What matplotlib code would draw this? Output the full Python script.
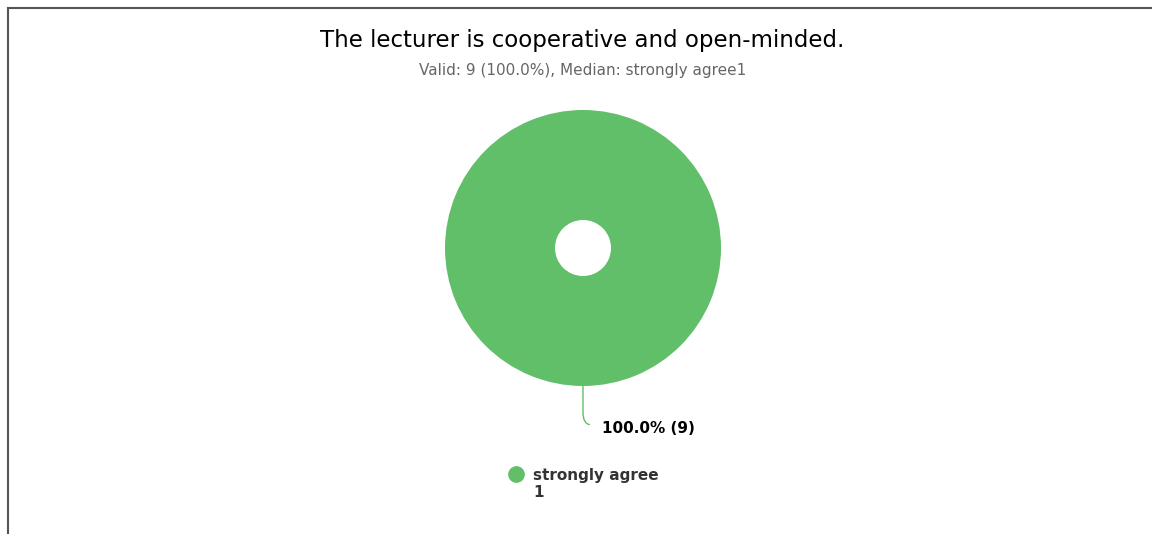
import matplotlib.pyplot as plt
from matplotlib.lines import Line2D
from matplotlib.path import Path
from matplotlib.patches import PathPatch

plt.rcParams["font.family"] = ["DejaVu Sans"]

title = "The lecturer is cooperative and open-minded."
subtitle = "Valid: 9 (100.0%), Median: strongly agree1"
categories = ["strongly agree"]
codes = ["1"]
counts = [9]
colors = ["#62bf69"]

W, H = 1152, 534
fig = plt.figure(figsize=(W / 100, H / 100), dpi=100)

# full-figure axes, 138 px per data unit, pie centre at pixel (583, 248)
cx, cy, r = 583, 248, 138
ax = fig.add_axes([0, 0, 1, 1])
wedges, _ = ax.pie(counts, colors=colors, startangle=90, counterclock=False,
                   radius=1, wedgeprops=dict(width=0.797, linewidth=0))
ax.set_xlim(-cx / r, (W - cx) / r)
ax.set_ylim(-(H - cy) / r, cy / r)
ax.set_aspect("auto")
ax.axis("off")

# data label with connector
total = sum(counts)
for w, n in zip(wedges, counts):
    verts = [(0, -1), (0, -1.19), (0, -1.275), (0.05, -1.28)]
    codes_p = [Path.MOVETO, Path.LINETO, Path.CURVE3, Path.CURVE3]
    ax.add_patch(PathPatch(Path(verts, codes_p), fill=False, edgecolor=w.get_facecolor(), lw=1))
    ax.text(0.138, -1.305, f"{n / total * 100:.1f}% ({n})", fontsize=11,
            fontweight="bold", color="black", ha="left", va="center")

fig.text(582 / W, 1 - 40 / H, title, fontsize=16.5, ha="center", va="center", color="black")
fig.text(583 / W, 1 - 70 / H, subtitle, fontsize=11, ha="center", va="center", color="#666666")

handles = [Line2D([], [], marker="o", ls="", color=c, markersize=11) for c in colors]
labels = [f"{c}\n{k}" for c, k in zip(categories, codes)]
leg = ax.legend(handles, labels, loc="upper left", bbox_to_anchor=(501 / W, 1 - 460 / H),
                bbox_transform=fig.transFigure, frameon=False, borderpad=0,
                handlelength=1, handleheight=1.0, handletextpad=0.6,
                prop=dict(size=11, weight="bold"), labelcolor="#333333")
# put the marker level with the first label line
for col in leg._legend_handle_box.get_children():
    for row in col.get_children():
        row.align = "top"

# chart border (top and left)
fig.add_artist(Line2D([7.5 / W, 1], [1 - 7.5 / H, 1 - 7.5 / H], color="#555555", lw=1.5))
fig.add_artist(Line2D([7.5 / W, 7.5 / W], [0, 1 - 7.5 / H], color="#555555", lw=1.5))

fig.savefig("out.png", dpi=100)
